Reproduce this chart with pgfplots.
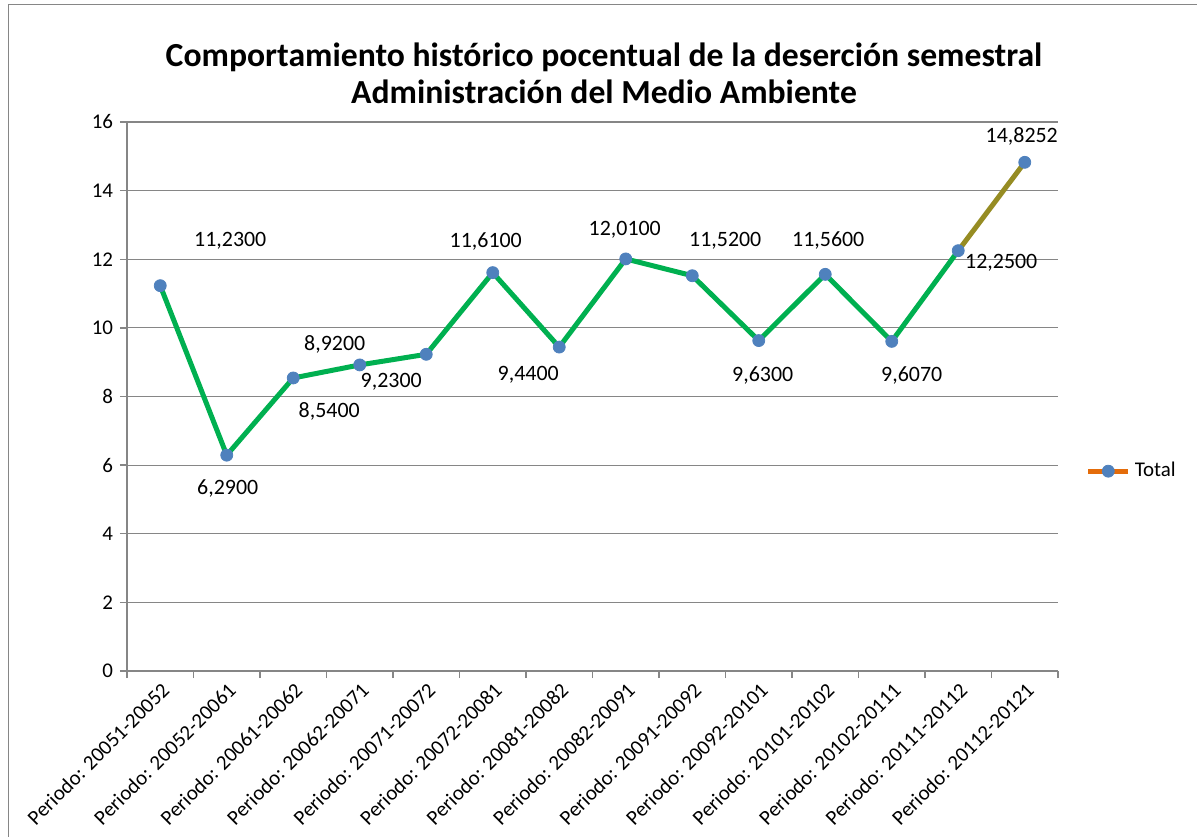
\documentclass[border=0pt]{standalone}
\usepackage{fontspec}
\setmainfont{Carlito}
\usepackage{pgfplots}
\pgfplotsset{compat=1.18}
\definecolor{gridgray}{RGB}{134,134,134}
\definecolor{lgreen}{RGB}{0,176,80}
\definecolor{mblue}{RGB}{79,129,189}
\definecolor{olivec}{RGB}{150,140,35}
\definecolor{legorange}{RGB}{228,108,10}
\begin{document}
\begin{tikzpicture}
\path[use as bounding box] (-63.5bp,-83bp) rectangle (535bp,335.5bp);
\draw[gridgray, line width=0.8bp] (-59.25bp,-83bp) -- (-59.25bp,333.25bp) -- (535bp,333.25bp);
\begin{axis}[
  at={(0,0)}, anchor=south west,
  scale only axis, width=465.5bp, height=274.5bp,
  xmin=-0.5, xmax=13.5, ymin=0, ymax=16,
  clip=false,
  axis x line*=bottom, axis y line*=left,
  axis line style={gridgray, line width=0.65bp},
  ytick={0,2,...,16},
  ymajorgrids, grid style={gridgray, line width=0.6bp},
  xtick={0,...,13},
  xticklabels={Periodo: 20051-20052,Periodo: 20052-20061,Periodo: 20061-20062,Periodo: 20062-20071,Periodo: 20071-20072,Periodo: 20072-20081,Periodo: 20081-20082,Periodo: 20082-20091,Periodo: 20091-20092,Periodo: 20092-20101,Periodo: 20101-20102,Periodo: 20102-20111,Periodo: 20111-20112,Periodo: 20112-20121},
  minor xtick={-0.5,0.5,...,13.5},
  tick align=outside,
  major tick length=3.5bp, minor tick length=3.5bp,
  major x tick style={draw=none},
  minor x tick style={gridgray, line width=0.65bp},
  ytick style={gridgray, line width=0.65bp},
  /pgf/number format/assume math mode=true,
  ticklabel style={font=\fontsize{10.5}{12}\selectfont, text=black},
  xticklabel style={rotate=45, anchor=north east, inner sep=1bp},
  legend style={at={(1.023,0.364)}, anchor=west, draw=none, fill=none, font=\fontsize{10.5}{12}\selectfont},
]
\addplot[lgreen, line width=2.5bp, forget plot] coordinates {
(0,11.23) (1,6.29) (2,8.54) (3,8.92) (4,9.23) (5,11.61) (6,9.44) (7,12.01) (8,11.52) (9,9.63) (10,11.56) (11,9.607) (12,12.25)};
\addplot[olivec, line width=2.5bp, forget plot] coordinates {(12,12.25) (13,14.8252)};
\addplot[only marks, mark=*, mark size=3bp, mark options={mblue, draw=mblue}, forget plot] coordinates {
(0,11.23) (1,6.29) (2,8.54) (3,8.92) (4,9.23) (5,11.61) (6,9.44) (7,12.01) (8,11.52) (9,9.63) (10,11.56) (11,9.607) (12,12.25) (13,14.8252)};
\addlegendimage{legend image code/.code={\draw[legorange, line width=2.5bp] (0bp,0bp) -- (20bp,0bp); \fill[mblue] (10bp,0bp) circle (3bp);}}
\addlegendentry{Total}
\begin{scope}[every node/.style={font=\fontsize{11}{13}\selectfont}]
\node at (axis cs:0,11.23) [xshift=35bp, yshift=22.5bp] {11,2300};
\node at (axis cs:1,6.29) [xshift=0.5bp, yshift=-16.5bp] {6,2900};
\node at (axis cs:2,8.54) [xshift=18bp, yshift=-16.5bp] {8,5400};
\node at (axis cs:3,8.92) [xshift=-12.5bp, yshift=10.5bp] {8,9200};
\node at (axis cs:4,9.23) [xshift=-17.5bp, yshift=-13.5bp] {9,2300};
\node at (axis cs:5,11.61) [xshift=-3.5bp, yshift=15.5bp] {11,6100};
\node at (axis cs:6,9.44) [xshift=-15.5bp, yshift=-14bp] {9,4400};
\node at (axis cs:7,12.01) [xshift=-0.5bp, yshift=14.5bp] {12,0100};
\node at (axis cs:8,11.52) [xshift=16.5bp, yshift=17.5bp] {11,5200};
\node at (axis cs:9,9.63) [xshift=2bp, yshift=-17.5bp] {9,6300};
\node at (axis cs:10,11.56) [xshift=1.5bp, yshift=17bp] {11,5600};
\node at (axis cs:11,9.607) [xshift=10bp, yshift=-17bp] {9,6070};
\node at (axis cs:12,12.25) [xshift=21.5bp, yshift=-6bp] {12,2500};
\node at (axis cs:13,14.8252) [xshift=-1.5bp, yshift=13bp] {14,8252};
\end{scope}
\end{axis}
\node[align=center, font=\fontsize{16.9}{18.5}\selectfont\bfseries] at (238.5bp,298.75bp) {Comportamiento histórico pocentual de la deserción semestral\\Administración del Medio Ambiente};
\end{tikzpicture}
\end{document}
